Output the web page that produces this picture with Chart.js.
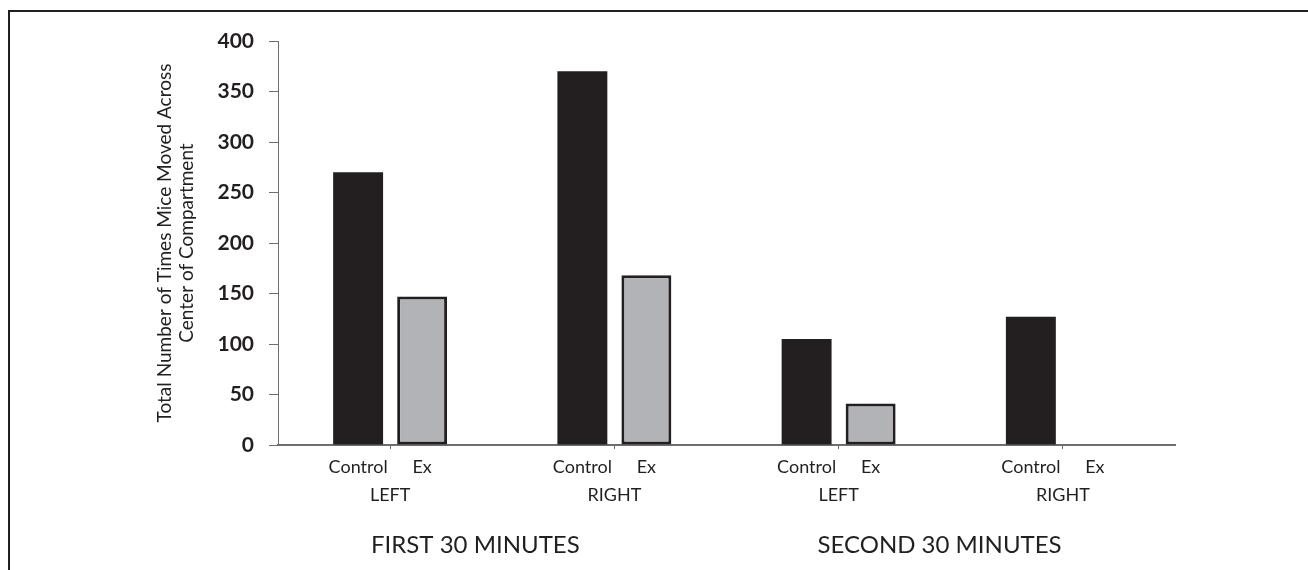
<!DOCTYPE html>
<html>
<head>
<meta charset="utf-8">
<script src="https://cdn.jsdelivr.net/npm/chart.js@4"></script>
<style>
  html, body { margin: 0; padding: 0; background: #fff; overflow: hidden; }
  #wrap { position: relative; width: 1308px; height: 570px; }
  #frame { position: absolute; left: 8px; top: 10px; width: 1400px; height: 600px;
           border-left: 2px solid #231f20; border-top: 2px solid #231f20; pointer-events: none; }
</style>
</head>
<body>
<div id="wrap">
  <canvas id="myChart" width="1308" height="570"></canvas>
  <div id="frame"></div>
</div>
<script>
// categories (sides) and the two series
var sides = ["LEFT", "RIGHT", "LEFT", "RIGHT"];
var seriesNames = ["Control", "Ex"];
var controlValues = [270, 370, 105, 127];
var exValues = [147, 168, 41, 0];
var yTicks = [0, 50, 100, 150, 200, 250, 300, 350, 400];
var periods = ["FIRST 30 MINUTES", "SECOND 30 MINUTES"];
var periodCenters = [0.38, 2.45]; // in category units

var ink = "#231f20";
var fontName = "Lato, 'Open Sans', sans-serif";

// draws "Control  Ex" under each bar and the period names
var barLabels = {
    id: "barLabels",
    afterDraw: function (chart) {
        var ctx = chart.ctx;
        ctx.save();
        ctx.fillStyle = ink;
        ctx.textAlign = "center";
        ctx.textBaseline = "middle";
        ctx.font = "18px " + fontName;
        for (var d = 0; d < seriesNames.length; d++) {
            var meta = chart.getDatasetMeta(d);
            for (var i = 0; i < meta.data.length; i++) {
                ctx.fillText(seriesNames[d], meta.data[i].x, 467);
            }
        }
        ctx.font = "24px " + fontName;
        var x = chart.scales.x;
        for (var p = 0; p < periods.length; p++) {
            ctx.fillText(periods[p], x.getPixelForValue(periodCenters[p]), 545);
        }
        ctx.restore();
    }
};

new Chart(document.getElementById("myChart"), {
    type: "bar",
    data: {
        labels: sides,
        datasets: [
            {
                label: seriesNames[0],
                data: controlValues,
                backgroundColor: ink,
                borderWidth: 0,
                categoryPercentage: 0.571,
                barPercentage: 0.78
            },
            {
                label: seriesNames[1],
                data: exValues,
                backgroundColor: "#b1b3b6",
                borderColor: ink,
                borderWidth: function (c) { return c.raw === 0 ? 0 : 3; },
                borderSkipped: false,
                categoryPercentage: 0.571,
                barPercentage: 0.78
            }
        ]
    },
    options: {
        responsive: false,
        animation: false,
        devicePixelRatio: 1,
        layout: { padding: { left: 154, right: 133, top: 41, bottom: 0 } },
        plugins: {
            legend: { display: false },
            tooltip: { enabled: false }
        },
        scales: {
            x: {
                grid: { display: true, drawOnChartArea: false, offset: false, tickLength: 4, color: "#6d6e71" },
                border: { display: true, color: "#6d6e71", width: 2 },
                ticks: { color: ink, padding: 35, font: { family: fontName, size: 18 } },
                afterFit: function (s) { s.height = 125; }
            },
            y: {
                min: 0,
                max: 400,
                afterBuildTicks: function (s) { s.ticks = yTicks.map(function (v) { return { value: v }; }); },
                grid: { display: true, drawOnChartArea: false, tickLength: 9, color: "#6d6e71" },
                border: { display: true, color: "#6d6e71", width: 1 },
                ticks: { color: ink, padding: 15, font: { family: fontName, size: 21, weight: "bold" } },
                title: {
                    display: true,
                    text: ["Total Number of Times Mice Moved Across", "Center of Compartment"],
                    color: ink,
                    font: { family: fontName, size: 19, lineHeight: 1.15 },
                    padding: { top: 0, bottom: 0 }
                },
                afterFit: function (s) { s.width = 124; }
            }
        }
    },
    plugins: [barLabels]
});
</script>
</body>
</html>
